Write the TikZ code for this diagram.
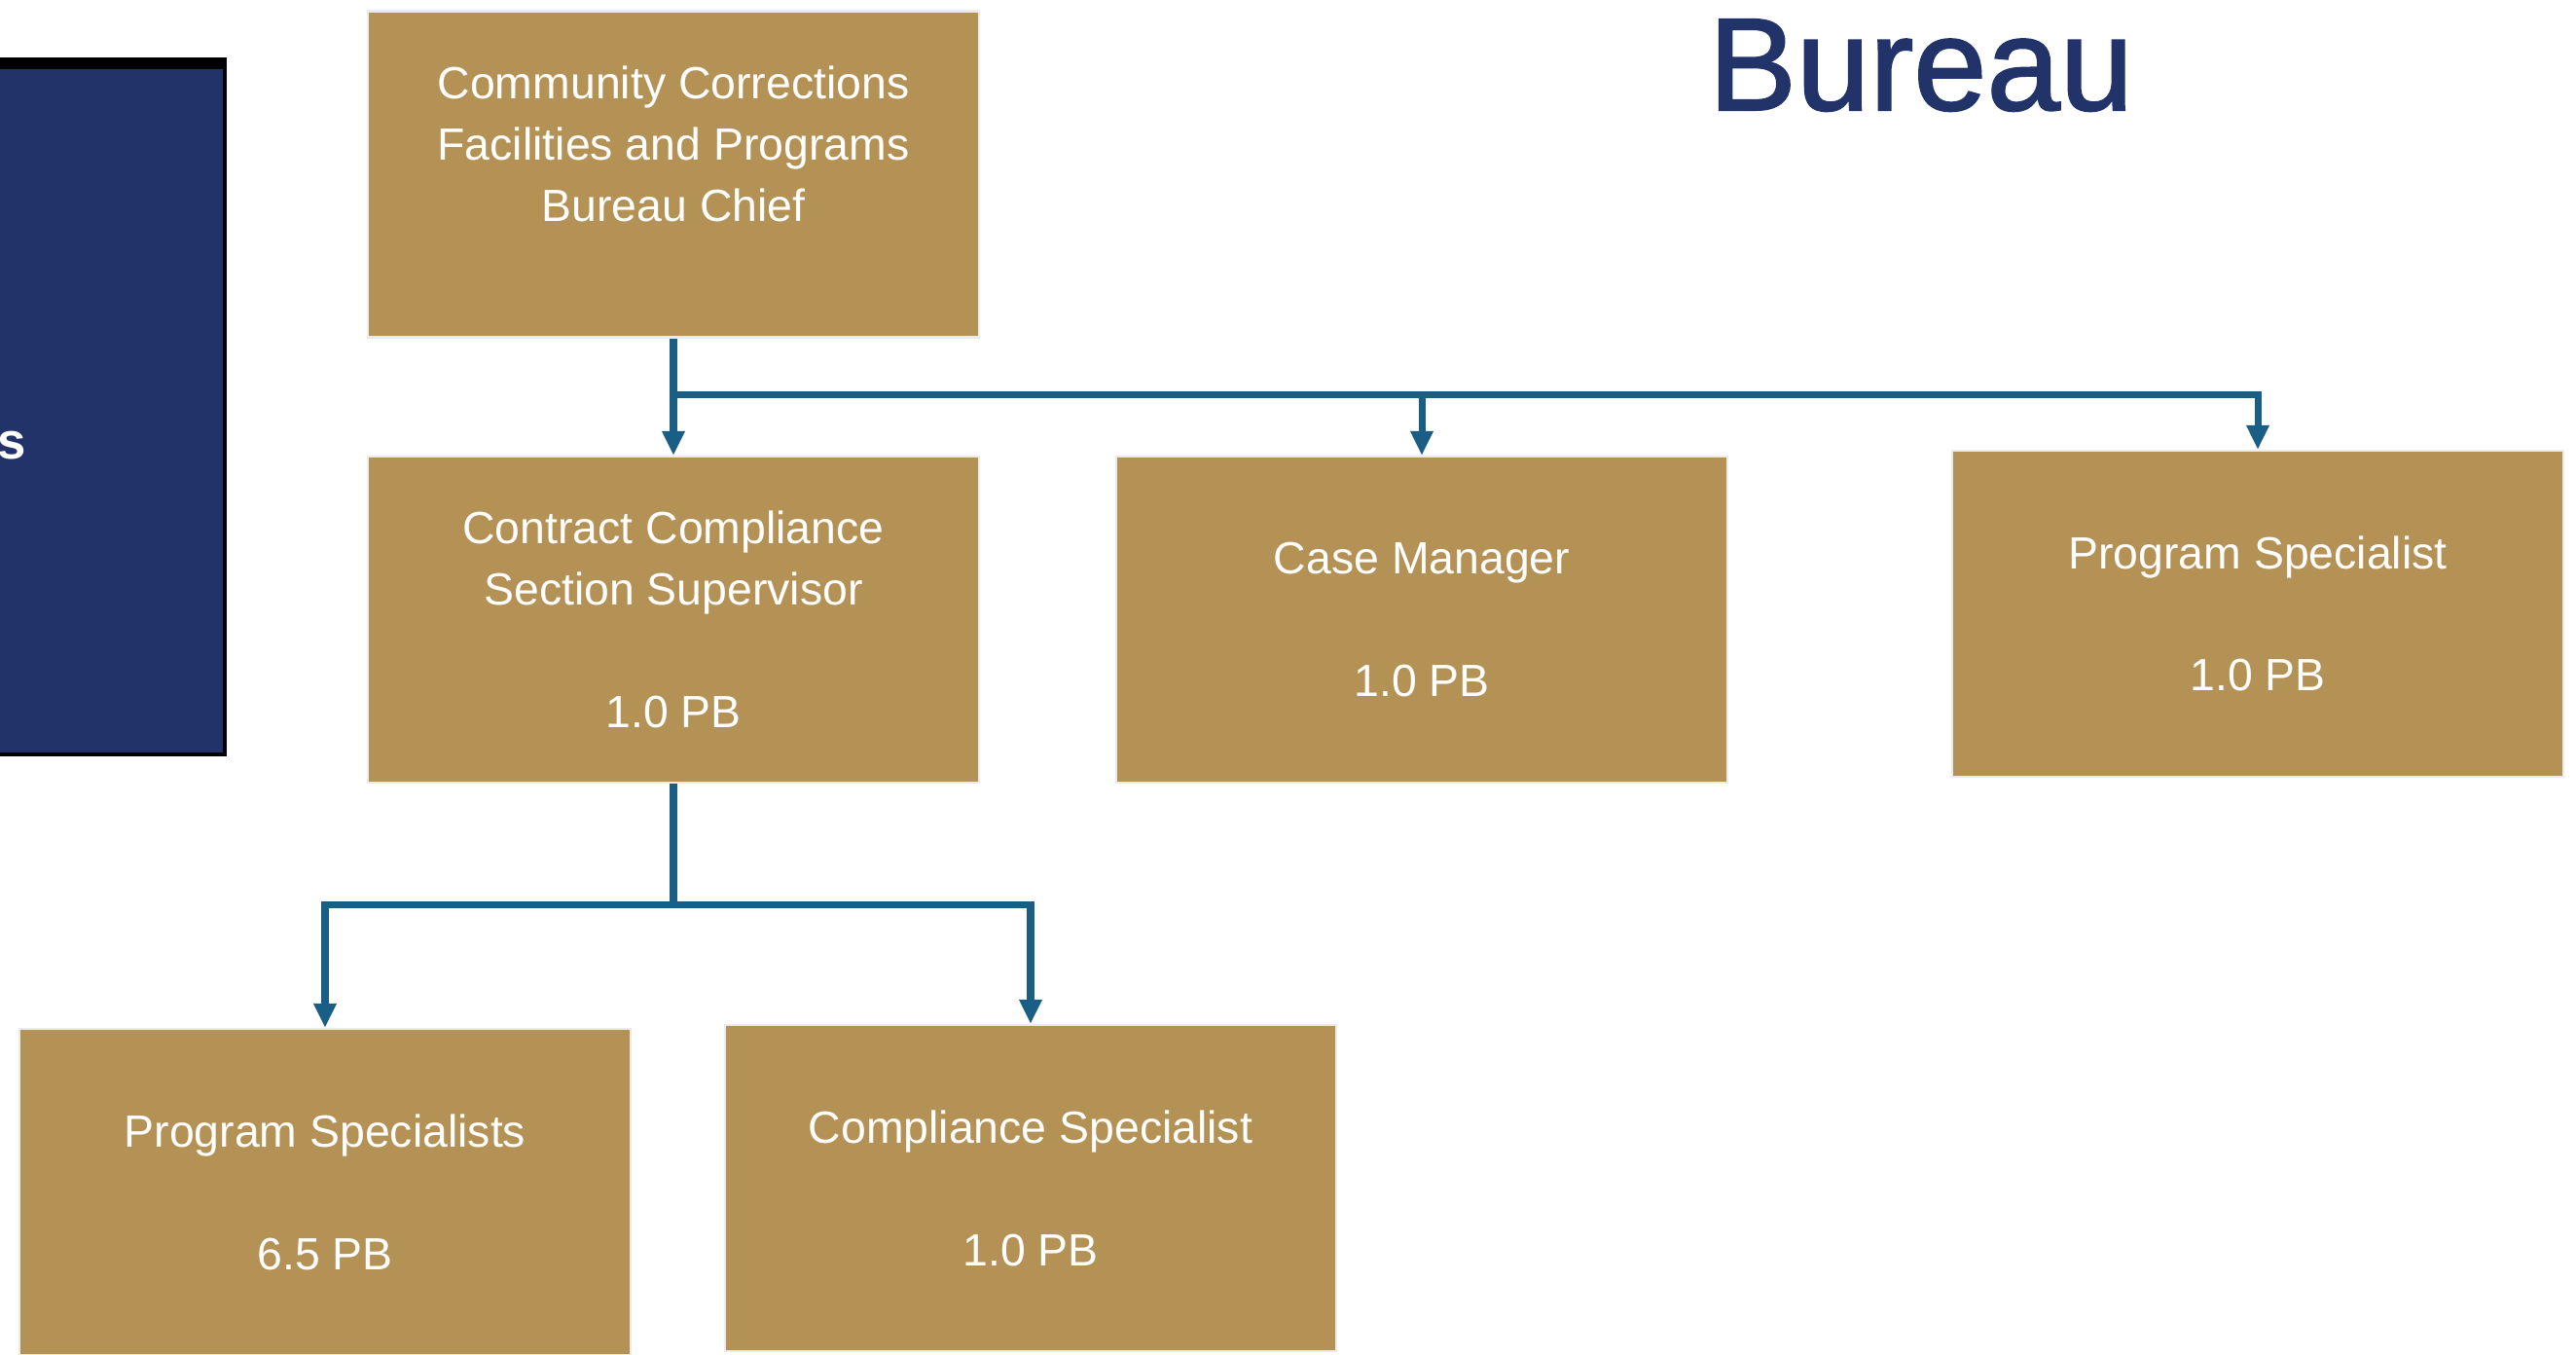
\documentclass[tikz,border=0pt]{standalone}
\usepackage{fontspec}
\setmainfont{Liberation Sans}
\newfontfamily\titlefont[FakeBold=1.5]{Liberation Sans}
\usepackage{tikz}
\usepackage{color}
\usetikzlibrary{arrows.meta}
\usetikzlibrary{positioning}
\definecolor{gold}{RGB}{180,145,84}
\definecolor{navy}{RGB}{34,51,106}
\definecolor{linkblue}{RGB}{26,94,133}

\begin{document}
\begin{tikzpicture}[
	post/.style={rectangle,fill=gold,draw=black!8,line width=0.6pt,text=white,align=center,
		minimum width=6.28cm,minimum height=3.35cm,inner sep=0pt,
		font=\fontsize{13.2}{17.9}\selectfont},
	link/.style={draw=linkblue,line width=2pt,-{Triangle[width=0.22cm,length=0.25cm]}}]
			\useasboundingbox (0,0) rectangle (26.47,-13.92);
			\fill[black] (-0.1,-0.59) rectangle (2.33,-7.77);
			\fill[navy] (-0.1,-0.71) rectangle (2.29,-7.73);
			\node[anchor=base east,text=white,inner sep=0pt,font=\bfseries\fontsize{15}{18}\selectfont] (cutlbl) at (0.275,-4.72) {s};
			\node[anchor=base west,text=navy,inner sep=0pt,font=\titlefont\fontsize{38.5}{46}\selectfont] (title) at (17.55,-1.13) {Bureau};
			\node[post] (chief) at (6.92,-1.79) {Community Corrections\\Facilities and Programs\\Bureau Chief\\ \mbox{}};
			\node[post] (super) at (6.92,-6.365) {Contract Compliance\\Section Supervisor\\[\baselineskip]1.0 PB};
			\node[post] (casemgr) at (14.61,-6.365) {Case Manager\\[\baselineskip]1.0 PB};
			\node[post] (progspec) at (23.20,-6.305) {Program Specialist\\[\baselineskip]1.0 PB};
			\node[post] (progspecs) at (3.34,-12.245) {Program Specialists\\[\baselineskip]6.5 PB};
			\node[post] (compspec) at (10.59,-12.205) {Compliance Specialist\\[\baselineskip]1.0 PB};
			\coordinate[below=0.58cm of chief.south] (topbus);
			\coordinate[below=1.24cm of super.south] (lowbus);
			\draw[link] (chief.south) -- (super.north);
			\draw[link] (topbus) -| (casemgr.north);
			\draw[link] (topbus) -| (progspec.north);
			\draw[draw=linkblue,line width=2pt] (super.south) -- (lowbus);
			\draw[link] (lowbus) -| (progspecs.north);
			\draw[link] (lowbus) -| (compspec.north);
		\end{tikzpicture}
\end{document}
